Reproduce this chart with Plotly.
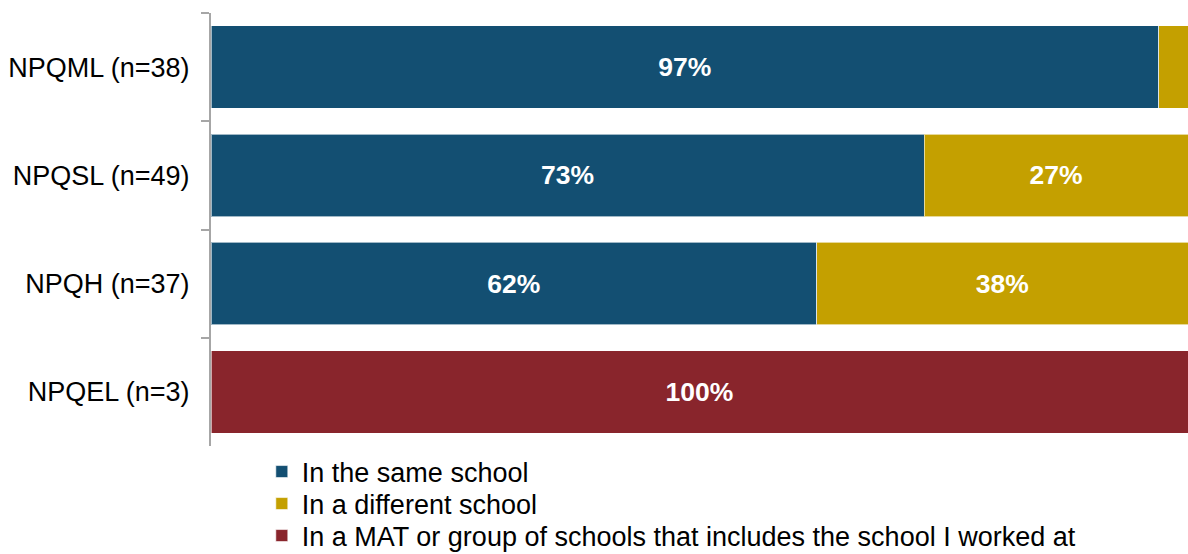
import plotly.graph_objects as go

# Survey groups (top to bottom) and the share in each answer category (%)
groups = ["NPQML (n=38)", "NPQSL (n=49)", "NPQH (n=37)", "NPQEL (n=3)"]
same_school = [97, 73, 62, 0]
different_school = [3, 27, 38, 0]
mat_group = [0, 0, 0, 100]

series_names = [
    "In the same school",
    "In a different school",
    "In a MAT or group of schools that includes the school I worked at",
]
series_colors = ["#134F72", "#C4A000", "#89252C"]

FONT = "Liberation Sans, Arial, sans-serif"
W, H = 1188, 554

# one single-entry legend per series so the rows can sit with tight spacing
legend_ids = ["legend", "legend2", "legend3"]
legend_rows_px = [472, 504, 536]


def labels(values):
    # only segments wide enough get a percentage label
    return [f"{v}%" if v >= 5 else "" for v in values]


fig = go.Figure()
for name, vals, color, lid in zip(series_names, [same_school, different_school, mat_group],
                                  series_colors, legend_ids):
    fig.add_trace(go.Bar(
        y=groups,
        x=vals,
        name=name,
        legend=lid,
        orientation="h",
        marker=dict(color=color, line=dict(color="rgba(255,255,255,0.6)", width=1)),
        text=labels(vals),
        textposition="inside",
        insidetextanchor="middle",
        textfont=dict(family=FONT, size=26.5, color="white", weight="bold"),
        textangle=0,
        cliponaxis=False,
    ))

legend_layout = {}
for lid, row in zip(legend_ids, legend_rows_px):
    legend_layout[lid] = dict(
        orientation="v",
        xref="paper",
        yref="container",
        x=0.052,
        y=1 - row / H,
        xanchor="left",
        yanchor="middle",
        font=dict(size=27),
        itemwidth=30,
        bgcolor="rgba(0,0,0,0)",
        borderwidth=0,
    )

fig.update_layout(
    width=W,
    height=H,
    barmode="stack",
    bargap=0.24,
    plot_bgcolor="white",
    paper_bgcolor="white",
    margin=dict(l=211, r=0, t=13, b=108, autoexpand=False),
    font=dict(family=FONT, size=27, color="black"),
    uniformtext=dict(mode="show", minsize=10),
    showlegend=True,
    xaxis=dict(
        range=[0, 100],
        visible=False,
        fixedrange=True,
    ),
    yaxis=dict(
        categoryorder="array",
        categoryarray=groups,
        autorange="reversed",
        showline=True,
        linecolor="#A6A6A6",
        linewidth=2,
        ticks="outside",
        tickson="boundaries",
        ticklen=8,
        tickcolor="#A6A6A6",
        tickwidth=2,
        ticklabelstandoff=14,
        showgrid=False,
        tickfont=dict(size=27),
    ),
    **legend_layout,
)

fig.write_html("out.html")
